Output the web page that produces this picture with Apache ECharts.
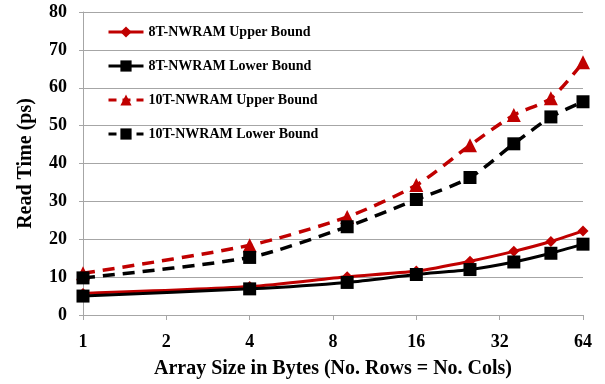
<!DOCTYPE html>
<html>
<head>
<meta charset="utf-8">
<script src="https://cdn.jsdelivr.net/npm/echarts@6/dist/echarts.min.js"></script>
<style>html,body{margin:0;padding:0;background:#fff;}#c{width:605px;height:384px;}</style>
</head>
<body>
<div id="c"></div>
<script>
const sizes = [1, 4, 9, 16, 25, 36, 49, 64];
const upper8T = [5.7, 7.5, 10.1, 11.6, 14.2, 16.8, 19.4, 22.2];
const lower8T = [5.0, 6.9, 8.6, 10.7, 12.0, 14.0, 16.3, 18.7];
const upper10T = [11.0, 18.4, 25.9, 34.3, 44.8, 52.8, 57.2, 66.7];
const lower10T = [9.8, 15.2, 23.3, 30.5, 36.3, 45.2, 52.3, 56.3];
const xTicks = [1, 2, 4, 8, 16, 32, 64];
const yTicks = [0, 10, 20, 30, 40, 50, 60, 70, 80];
const names = ['8T-NWRAM Upper Bound', '8T-NWRAM Lower Bound', '10T-NWRAM Upper Bound', '10T-NWRAM Lower Bound'];

const pair = arr => sizes.map((s, i) => [s, arr[i]]);
const font = '"Liberation Serif", "Times New Roman", serif';
const RED = '#C00000', BLK = '#000000';

const chart = echarts.init(document.getElementById('c'), null, {renderer: 'canvas'});
chart.setOption({
  animation: false,
  backgroundColor: '#fff',
  grid: {left: 83, right: 22, top: 12, bottom: 69, containLabel: false},
  legend: {
    orient: 'vertical', left: 107, top: 25, padding: 0, itemWidth: 35, itemHeight: 14, itemGap: 20,
    textStyle: {fontFamily: font, fontWeight: 'bold', fontSize: 14, color: '#000'},
    data: [
      {name: names[0], lineStyle: {width: 3, color: RED}},
      {name: names[1], lineStyle: {width: 3, color: BLK}},
      {name: names[2], lineStyle: {width: 3, color: RED, type: [8, 6]}},
      {name: names[3], lineStyle: {width: 3, color: BLK, type: [8, 6]}}
    ]
  },
  xAxis: {
    type: 'log', logBase: 2, min: xTicks[0], max: xTicks[xTicks.length - 1],
    name: 'Array Size in Bytes (No. Rows = No. Cols)', nameLocation: 'middle', nameGap: 44,
    nameTextStyle: {fontFamily: font, fontWeight: 'bold', fontSize: 20, color: '#000'},
    axisLine: {lineStyle: {color: '#a6a6a6', width: 1}},
    axisTick: {show: true, length: 5, lineStyle: {color: '#a6a6a6'}},
    axisLabel: {fontFamily: font, fontWeight: 'bold', fontSize: 18, color: '#000', margin: 18},
    splitLine: {show: false},
    minorTick: {show: false}
  },
  yAxis: {
    type: 'value', min: yTicks[0], max: yTicks[yTicks.length - 1], interval: 10,
    name: 'Read Time (ps)', nameLocation: 'middle', nameGap: 47,
    nameTextStyle: {fontFamily: font, fontWeight: 'bold', fontSize: 20, color: '#000'},
    axisLine: {show: true, lineStyle: {color: '#a6a6a6', width: 1}},
    axisTick: {show: true, length: 4, lineStyle: {color: '#a6a6a6'}},
    axisLabel: {fontFamily: font, fontWeight: 'bold', fontSize: 18, color: '#000', margin: 16},
    splitLine: {show: true, lineStyle: {color: '#a6a6a6', width: 1}}
  },
  series: [
    {name: names[0], type: 'line', data: pair(upper8T), smooth: 0.25,
     symbol: 'diamond', symbolSize: 11, z: 3,
     lineStyle: {color: RED, width: 3}, itemStyle: {color: RED}},
    {name: names[1], type: 'line', data: pair(lower8T), smooth: 0.25,
     symbol: 'rect', symbolSize: 13, z: 4,
     lineStyle: {color: BLK, width: 3}, itemStyle: {color: BLK}},
    {name: names[2], type: 'line', data: pair(upper10T), smooth: 0.25,
     symbol: 'triangle', symbolSize: 14, z: 3,
     lineStyle: {color: RED, width: 3.5, type: [12, 8]}, itemStyle: {color: RED}},
    {name: names[3], type: 'line', data: pair(lower10T), smooth: 0.25,
     symbol: 'rect', symbolSize: 13, z: 4,
     lineStyle: {color: BLK, width: 3.5, type: [12, 8]}, itemStyle: {color: BLK}}
  ]
});
</script>
</body>
</html>
